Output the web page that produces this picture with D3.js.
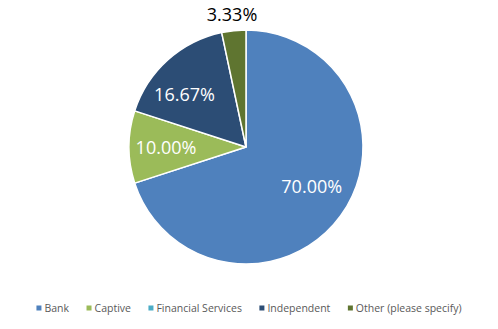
<!DOCTYPE html>
<html>
<head>
<meta charset="utf-8">
<script src="https://cdn.jsdelivr.net/npm/d3@7"></script>
<style>
  html, body { margin: 0; padding: 0; background: #fff; }
  svg { display: block; }
</style>
</head>
<body>
<svg id="chart" width="498" height="329"></svg>
<script>
// Share of respondents by lender type
const categories = ["Bank", "Captive", "Financial Services", "Independent", "Other (please specify)"];
const values = [70.00, 10.00, 0.00, 16.67, 3.33];
const colors = ["#4f81bd", "#9bbb59", "#4bacc6", "#2c4d75", "#5f7530"];

const width = 498, height = 329;
const cx = 246, cy = 147, radius = 117;

const svg = d3.select("#chart");
const data = categories.map((c, i) => ({ name: c, value: values[i], color: colors[i] }));

const pie = d3.pie().value(d => d.value).sort(null);
const arcs = pie(data);
const arc = d3.arc().innerRadius(0).outerRadius(radius);

const g = svg.append("g").attr("transform", `translate(${cx},${cy})`);

g.selectAll("path.slice")
  .data(arcs.filter(a => a.data.value > 0))
  .join("path")
  .attr("class", "slice")
  .attr("d", arc)
  .attr("fill", d => d.data.color)
  .attr("stroke", "#fff")
  .attr("stroke-width", 1.5)
  .attr("stroke-linejoin", "round");

// Labels inside larger slices, outside the thin one
const fmt = v => v.toFixed(2) + "%";
const innerArc = d3.arc().innerRadius(80).outerRadius(80);
const outerArc = d3.arc().innerRadius(radius + 17).outerRadius(radius + 17);
const labelNudge = { "Bank": [1, -8], "Independent": [-8, 6] };

g.selectAll("text.val")
  .data(arcs.filter(a => a.data.value > 0))
  .join("text")
  .attr("class", "val")
  .attr("transform", d => {
    const outside = d.data.value < 5;
    const [x, y] = (outside ? outerArc : innerArc).centroid(d);
    const n = labelNudge[d.data.name] || [0, 0];
    return `translate(${x + n[0]},${y + n[1]})`;
  })
  .attr("text-anchor", "middle")
  .attr("dominant-baseline", "central")
  .attr("font-family", "'Open Sans', sans-serif")
  .attr("font-size", 18)
  .attr("fill", d => d.data.value < 5 ? "#000" : "#fff")
  .text(d => fmt(d.data.value));

// Legend along the bottom, centred
const legend = svg.append("g").attr("transform", "translate(0,308)");
const items = legend.selectAll("g.item")
  .data(data)
  .join("g")
  .attr("class", "item");

items.append("rect")
  .attr("x", 0).attr("y", -2.5)
  .attr("width", 5).attr("height", 5)
  .attr("fill", d => d.color);

items.append("text")
  .attr("x", 8)
  .attr("y", 0)
  .attr("dominant-baseline", "central")
  .attr("font-family", "'Open Sans', sans-serif")
  .attr("font-size", 10.5)
  .attr("fill", "#595959")
  .text(d => d.name);

const gap = 17.5;
let xPos = 0;
const offsets = [];
items.each(function () {
  offsets.push(xPos);
  const w = d3.select(this).select("text").node().getComputedTextLength();
  xPos += 8 + w + gap;
});
const total = xPos - gap;
const startX = 249 - total / 2;
items.attr("transform", (d, i) => `translate(${startX + offsets[i]},0)`);
</script>
</body>
</html>
